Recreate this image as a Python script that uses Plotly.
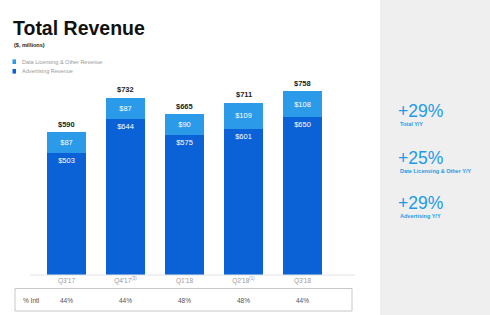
import plotly.graph_objects as go

quarters = ["Q3'17", "Q4'17", "Q1'18", "Q2'18", "Q3'18"]
tick_labels = ["Q3'17", "Q4'17<sup>(3)</sup>", "Q1'18", "Q2'18<sup>(1)</sup>", "Q3'18"]
advertising = [503, 644, 575, 601, 650]
data_licensing = [87, 87, 90, 109, 108]
totals = [590, 732, 665, 711, 758]
intl_pct = ["44%", "44%", "48%", "48%", "44%"]
kpi_values = ["+29%", "+25%", "+29%"]
kpi_labels = ["Total Y/Y", "Date Licensing & Other Y/Y", "Advertising Y/Y"]

W, H = 490, 315
DARK = "#0b62d6"
LIGHT = "#2a9ae9"
KPI = "#1d9be6"
FONT = "Liberation Sans, Arial, sans-serif"

def px(x):
    return x / W

def py(y):
    return 1 - y / H

fig = go.Figure()
fig.add_trace(go.Bar(
    x=quarters, y=advertising, marker=dict(color=DARK, line=dict(width=0)),
    text=["$%d" % v for v in advertising], textposition="inside",
    insidetextanchor="end", textangle=0,
    textfont=dict(color="white", size=7.5, family=FONT), showlegend=False,
    name="Advertising Revenue"))
fig.add_trace(go.Bar(
    x=quarters, y=data_licensing, marker=dict(color=LIGHT, line=dict(width=0)),
    text=["$%d" % v for v in data_licensing], textposition="inside",
    insidetextanchor="middle", textangle=0,
    textfont=dict(color="white", size=7.5, family=FONT), showlegend=False,
    name="Data Licensing & Other Revenue"))

annotations = []
for q, t in zip(quarters, totals):
    annotations.append(dict(x=q, y=t, xref="x", yref="y", text="<b>$%d</b>" % t,
                            showarrow=False, yanchor="bottom", yshift=1,
                            font=dict(size=7.5, color="#222", family=FONT)))
for q, p in zip(quarters, intl_pct):
    annotations.append(dict(x=q, y=py(300), xref="x", yref="paper", text=p,
                            showarrow=False, yanchor="middle",
                            font=dict(size=6.5, color="#555", family=FONT)))
annotations.append(dict(x=px(21), y=py(300), xref="paper", yref="paper", text="% Intl",
                        showarrow=False, xanchor="left", yanchor="middle",
                        font=dict(size=6.5, color="#555", family=FONT)))
# Title & subtitle
annotations.append(dict(x=px(11), y=py(28), xref="paper", yref="paper",
                        text="<b>Total Revenue</b>", showarrow=False,
                        xanchor="left", yanchor="middle",
                        font=dict(size=19.5, color="#111", family=FONT)))
annotations.append(dict(x=px(12), y=py(45.5), xref="paper", yref="paper",
                        text="<b>($, millions)</b>", showarrow=False,
                        xanchor="left", yanchor="middle",
                        font=dict(size=5.5, color="#222", family=FONT)))
# Legend
legend_items = [("Data Licensing & Other Revenue", LIGHT, 61.7),
                ("Advertising Revenue", DARK, 71.3)]
shapes = []
for name, col, yy in legend_items:
    shapes.append(dict(type="rect", xref="paper", yref="paper",
                       x0=px(12.5), x1=px(16), y0=py(yy - 2.3), y1=py(yy + 2.3),
                       fillcolor=col, line=dict(width=0)))
    annotations.append(dict(x=px(20), y=py(yy), xref="paper", yref="paper",
                            text=name, showarrow=False, xanchor="left", yanchor="middle",
                            font=dict(size=5.5, color="#999", family=FONT)))
# Right panel
shapes.append(dict(type="rect", xref="paper", yref="paper", x0=px(380), x1=1, y0=0, y1=1,
                   fillcolor="#efefef", line=dict(width=0), layer="below"))
kpi_y = [111, 158, 203]
for v, lab, yy in zip(kpi_values, kpi_labels, kpi_y):
    annotations.append(dict(x=px(396), y=py(yy), xref="paper", yref="paper",
                            text=v, showarrow=False, xanchor="left", yanchor="middle",
                            font=dict(size=17.5, color=KPI, family=FONT)))
    annotations.append(dict(x=px(397.5), y=py(yy + 13), xref="paper", yref="paper",
                            text="<b>%s</b>" % lab, showarrow=False, xanchor="left",
                            yanchor="middle", font=dict(size=5.5, color=KPI, family=FONT)))
# Axis baseline and table box
shapes.append(dict(type="line", xref="paper", yref="paper", x0=px(30), x1=px(355),
                   y0=py(275), y1=py(275), line=dict(color="#e2e2e2", width=1)))
shapes.append(dict(type="rect", xref="paper", yref="paper", x0=px(15), x1=px(352),
                   y0=py(288.5), y1=py(311), line=dict(color="#c8c8c8", width=1),
                   fillcolor="rgba(0,0,0,0)"))

fig.update_layout(
    width=W, height=H, margin=dict(l=0, r=0, t=0, b=0),
    paper_bgcolor="white", plot_bgcolor="rgba(0,0,0,0)",
    barmode="stack", bargap=0.34,
    xaxis=dict(domain=[px(37), px(332)], tickvals=quarters, ticktext=tick_labels,
               showgrid=False, zeroline=False, showline=False, ticks="",
               tickfont=dict(size=6.5, color="#999", family=FONT)),
    yaxis=dict(domain=[py(275), py(56.6)], range=[0, 900], visible=False),
    annotations=annotations, shapes=shapes,
    uniformtext=dict(minsize=7, mode="show"),
)
fig.write_html("out.html")
